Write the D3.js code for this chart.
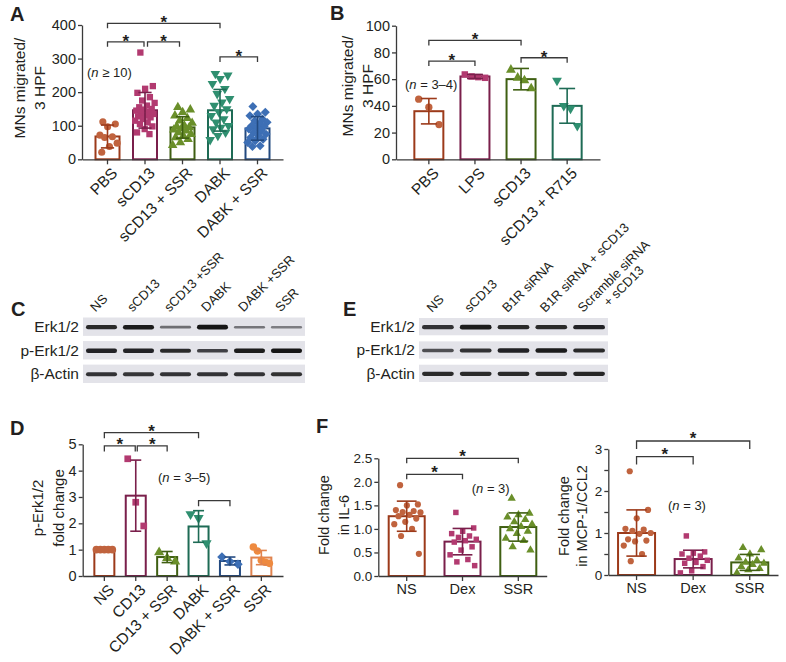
<!DOCTYPE html>
<html><head><meta charset="utf-8">
<script src="https://cdn.jsdelivr.net/npm/d3@7"></script>
<style>
body{margin:0;background:#fff;}
svg{display:block;font-family:"Liberation Sans",Arial,Helvetica,sans-serif;}
</style></head><body>
<svg id="fig" width="786" height="662"></svg>
<script>
// ---------------- Panel A ----------------
const aCategories = ["PBS","sCD13","sCD13 + SSR","DABK","DABK + SSR"];
const aMeans = [68,146,95,146,92];
const aSD = [34,53,32,62,35];
const aPoints = [
  [112,105,97,72,67,65,48,38,21],
  [318,218,210,198,185,175,168,160,155,150,148,145,140,138,135,130,128,125,120,115,110,105,98,90,80,75],
  [155,148,140,130,122,115,108,100,98,95,92,88,85,80,75,70,65,60,50,42],
  [255,250,240,225,210,195,180,170,160,150,140,130,120,110,100,95,90,80,70,58],
  [157,140,135,130,120,115,110,105,100,98,95,90,85,80,75,70,65,60,55,50,40,38]
];
const aTicks = [0,100,200,300,400];
const aBrackets = [[0,3,405,true],[0,1,350,true],[1,2,350,true],[3,4,305,true]];

// ---------------- Panel B ----------------
const bCategories = ["PBS","LPS","sCD13","sCD13 + R715"];
const bMeans = [36,62,60,40];
const bSD = [9.5,1.5,8,13];
const bPoints = [[45,39,26],[63.5,62,61.5,61],[67,61,59,53],[59,40,38,25]];
const bTicks = [0,20,40,60,80,100];
const bBrackets = [[0,2,89,true],[0,1,73.5,true],[2,3,76,true]];

// ---------------- Panel C (blot) ----------------
const cLanes = ["NS","sCD13","sCD13 +SSR","DABK","DABK +SSR","SSR"];
const cRows = ["Erk1/2","p-Erk1/2","β-Actin"];
const cErk = [0.85,0.95,0.4,1.0,0.35,0.3];
const cPErk = [0.9,0.9,0.85,0.7,0.95,1.0];
const cActin = [0.8,0.78,0.8,0.8,0.8,0.82];

// ---------------- Panel E (blot) ----------------
const eLanes = [["NS"],["sCD13"],["B1R siRNA"],["B1R siRNA + sCD13"],["Scramble siRNA","+ sCD13"]];
const eRows = ["Erk1/2","p-Erk1/2","β-Actin"];
const eErk = [0.8,0.95,0.85,0.85,0.9];
const ePErk = [0.6,0.8,0.9,0.95,0.85];
const eActin = [0.85,0.85,0.85,0.85,0.88];

// ---------------- Panel D ----------------
const dCategories = ["NS","CD13","CD13 + SSR","DABK","DABK + SSR","SSR"];
const dMeans = [1,3.05,0.72,1.88,0.57,0.7];
const dSD = [0,1.35,0.21,0.6,0.15,0.27];
const dPoints = [[1,1,1,1,1],[4.45,2.8,1.9],[0.9,0.68,0.55],[2.35,2.2,1.25],[0.72,0.55,0.45],[1.1,0.95,0.6,0.52,0.48]];
const dTicks = [0,1,2,3,4,5];
const dBrackets = [[0,3,5.44,true],[0,1,4.94,true],[1,2,4.94,true],[3,4,2.86,false]];

// ---------------- Panel F ----------------
const fCategories = ["NS","Dex","SSR"];
const fIL6Means = [1.27,0.73,1.04];
const fIL6SD = [0.32,0.28,0.3];
const fIL6Points = [
  [1.93,1.52,1.5,1.4,1.38,1.36,1.35,1.3,1.27,1.22,1.15,1.1,1.0,0.85,0.47],
  [1.35,1.02,0.95,0.9,0.85,0.82,0.78,0.75,0.72,0.62,0.55,0.45,0.35,0.3,0.22],
  [1.65,1.33,1.3,1.25,1.2,1.15,1.1,1.05,1.0,0.95,0.9,0.8,0.75,0.62,0.55]
];
const fIL6Ticks = [0,0.5,1,1.5,2,2.5];
const fIL6Brackets = [[0,2,2.5,true],[0,1,2.16,true]];
const fMCPMeans = [1.0,0.38,0.3];
const fMCPSD = [0.55,0.21,0.19];
const fMCPPoints = [
  [2.47,1.55,1.35,1.1,1.08,1.05,1.0,0.98,0.85,0.82,0.8,0.7,0.5,0.33],
  [0.93,0.55,0.52,0.5,0.45,0.4,0.35,0.3,0.28,0.2,0.1,0.05],
  [0.65,0.6,0.5,0.4,0.35,0.3,0.28,0.25,0.2,0.15,0.12,0.05]
];
const fMCPTicks = [0,1,2,3];
const fMCPBrackets = [[0,2,3.19,true],[0,1,2.82,true]];

// ---------------- styles ----------------
const INK = "#231f20", AX = "#3a3a3a";
const C = {
  brown:["#9c3a1a","#c0633e"], maroon:["#7a1f4b","#b23a70"], olive:["#3f5f12","#6a8f2a"],
  teal:["#1e6b55","#2f8f70"], blue:["#234a80","#3d6fb5"], orange:["#e0834f","#ee8a40"]
};
const svg = d3.select("#fig");
svg.append("rect").attr("width",786).attr("height",662).attr("fill","#fff");
const defs = svg.append("defs");
defs.append("filter").attr("id","blur").attr("x","-20%").attr("y","-100%").attr("width","140%").attr("height","300%")
  .append("feGaussianBlur").attr("stdDeviation",0.7);

const symTypes = {circle:d3.symbolCircle, square:d3.symbolSquare, tri:d3.symbolTriangle, triDown:d3.symbolTriangle, diamond:d3.symbolSquare};
const symRot = {circle:0, square:0, tri:0, triDown:180, diamond:45};

function panelLetter(t, x, y){
  svg.append("text").attr("x",x).attr("y",y).attr("font-size",20).attr("font-weight","bold")
    .attr("fill",INK).text(t);
}

function nText(x, y, parts, fs){
  const t = svg.append("text").attr("x",x).attr("y",y).attr("font-size",fs).attr("fill",INK);
  t.append("tspan").text("(");
  t.append("tspan").attr("font-style","italic").text("n");
  t.append("tspan").text(parts);
}

function barPanel(o){
  const g = svg.append("g");
  const n = o.categories.length;
  const pi = 1 - o.barW/o.step;
  const po = ((o.x1 - o.x0)/o.step - n + pi)/2;
  const x = d3.scaleBand().domain(o.categories).range([o.x0,o.x1]).paddingInner(pi).paddingOuter(po);
  const y = d3.scaleLinear().domain([0,o.yMax]).range([o.yBottom,o.yTop]);
  const cx = c => x(c) + x.bandwidth()/2;

  // bars
  g.selectAll("rect.bar").data(o.categories).join("rect").attr("class","bar")
    .attr("x", c=>x(c)).attr("width", x.bandwidth())
    .attr("y", (c,i)=>y(o.means[i])).attr("height",(c,i)=>y(0)-y(o.means[i]))
    .attr("fill","#fff").attr("stroke",(c,i)=>o.colors[i][0]).attr("stroke-width",2);

  // points
  o.categories.forEach((c,i)=>{
    const spread = o.barW*o.spread;
    const shape = o.shapes[i];
    const m = o.points[i].length;
    g.selectAll(null).data(o.points[i]).join("path")
      .attr("d", d3.symbol().type(symTypes[shape]).size(o.symSize)())
      .attr("transform",(v,k)=>{
        const off = m<=5 ? (m===1?0:(k/(m-1)-0.5)*2*spread) : (((k*0.618034+0.27)%1)-0.5)*2*spread;
        return `translate(${cx(c)+off},${y(v)}) rotate(${symRot[shape]})`;
      })
      .attr("fill", o.colors[i][1]);
  });

  // error bars
  o.categories.forEach((c,i)=>{
    if(!o.sd[i]) return;
    const col = o.colors[i][0], cap = o.barW*0.55;
    const lo = y(o.means[i]-o.sd[i]), hi = y(o.means[i]+o.sd[i]);
    g.append("line").attr("x1",cx(c)).attr("x2",cx(c)).attr("y1",lo).attr("y2",hi).attr("stroke",col).attr("stroke-width",1.6);
    [lo,hi].forEach(yy=> g.append("line").attr("x1",cx(c)-cap/2).attr("x2",cx(c)+cap/2).attr("y1",yy).attr("y2",yy).attr("stroke",col).attr("stroke-width",1.6));
  });

  // y axis
  const ya = g.append("g").attr("transform",`translate(${o.x0},0)`)
    .call(d3.axisLeft(y).tickValues(o.ticks).tickFormat(o.fmt).tickSize(4).tickSizeOuter(0).tickPadding(2));
  if(o.minor){
    g.append("g").attr("transform",`translate(${o.x0},0)`)
      .call(d3.axisLeft(y).tickValues(o.minor).tickFormat("").tickSize(4).tickSizeOuter(0))
      .select(".domain").remove();
  }
  // x axis
  const xa = g.append("g").attr("transform",`translate(0,${o.yBottom})`)
    .call(d3.axisBottom(x).tickSize(5).tickSizeOuter(0));
  g.selectAll(".domain, .tick line").attr("stroke",AX).attr("stroke-width",1.3);
  ya.selectAll("text").attr("font-size",o.tickFs).attr("fill",INK).attr("font-family","Liberation Sans, Arial, sans-serif");
  xa.selectAll("text").attr("font-size",o.xFs).attr("fill",INK).attr("font-family","Liberation Sans, Arial, sans-serif");
  if(o.rotate){
    xa.selectAll(".tick text").attr("y",0).attr("x",0).attr("dy","0.35em").attr("text-anchor","end")
      .attr("transform",`translate(${o.lblDx},${o.lblDy}) rotate(-45)`);
  } else {
    xa.selectAll(".tick text").attr("y",o.lblDy).attr("dy","0.71em");
  }

  // brackets
  o.brackets.forEach(([a,b,lvl,star],k)=>{
    const xa1 = cx(o.categories[a]) + (o.insets ? o.insets[k][0] : 0);
    const xb1 = cx(o.categories[b]) + (o.insets ? o.insets[k][1] : 0);
    const yl = y(lvl);
    g.append("path").attr("d",`M${xa1},${yl+o.leg}V${yl}H${xb1}V${yl+o.leg}`)
      .attr("fill","none").attr("stroke",AX).attr("stroke-width",1.3);
    if(star){
      g.append("text").attr("x",(xa1+xb1)/2).attr("y",yl - o.starGap + 0.58*17)
        .attr("text-anchor","middle").attr("font-size",17).attr("font-weight","bold").attr("fill",INK).text("*");
    }
  });

  // y title
  o.title.forEach((t,k)=>{
    svg.append("text").attr("transform",`translate(${o.titleX[k]},${o.titleY}) rotate(-90)`)
      .attr("text-anchor","middle").attr("font-size",o.titleFs).attr("fill",INK).text(t);
  });
  return {x,y};
}

function blot(o){
  const g = svg.append("g");
  const x = d3.scaleBand().domain(d3.range(o.lanes.length)).range([o.x0,o.x1]);
  const r = d3.scaleBand().domain(o.rows).range([o.y0,o.y1]).paddingInner(o.rowPad);
  o.rows.forEach((row,ri)=>{
    g.append("rect").attr("x",o.x0).attr("width",o.x1-o.x0).attr("y",r(row)).attr("height",r.bandwidth()).attr("fill","#e3e3e9");
    svg.append("text").attr("x",o.labelX).attr("y",r(row)+r.bandwidth()/2).attr("dy","0.35em")
      .attr("text-anchor","end").attr("font-size",15.5).attr("fill",INK).text(row);
    const vals = o.data[ri];
    g.selectAll(null).data(vals).join("rect")
      .attr("x",(v,i)=>x(i)+x.bandwidth()*0.08).attr("width",x.bandwidth()*0.84)
      .attr("y",v=>r(row)+r.bandwidth()/2 - (1.5+3.2*v)/2 + 0.5).attr("height",v=>1.5+3.2*v)
      .attr("rx",v=>(1.5+3.2*v)/2)
      .attr("fill",v=>d3.interpolateRgb("#a9a9b0","#151515")(v)).attr("filter","url(#blur)");
  });
  // lane labels
  o.lanes.forEach((lab,i)=>{
    const lines = Array.isArray(lab)?lab:[lab];
    const t = svg.append("text").attr("transform",`translate(${x(i)+x.bandwidth()/2-6},${o.y0-5}) rotate(-45)`)
      .attr("font-size",13).attr("fill",INK);
    const t1 = t.append("tspan").attr("x",0).attr("y",0).text(lines[0]);
    if(lines.length>1){
      const l1 = t1.node().getComputedTextLength();
      const t2 = t.append("tspan").attr("y",14).text(lines[1]);
      const l2 = t2.node().getComputedTextLength();
      t2.attr("x",(l1-l2)/2);
    }
  });
}

// ---- draw A ----
panelLetter("A",10,21);
barPanel({categories:aCategories, means:aMeans, sd:aSD, points:aPoints, ticks:aTicks, fmt:d3.format("d"),
  x0:82, x1:283, step:37.5, barW:24, yMax:400, yBottom:159.3, yTop:25,
  colors:[C.brown,C.maroon,C.olive,C.teal,C.blue], shapes:["circle","square","tri","triDown","diamond"],
  symSize:40, spread:0.42, tickFs:14.5, xFs:15.5, rotate:true, lblDx:7, lblDy:11,
  brackets:aBrackets, insets:[[0,0],[0,-1],[2.5,-3],[0,0]], leg:5, starGap:5,
  title:["MNs migrated/","3 HPF"], titleX:[24.5,44.5], titleY:88, titleFs:15.5});
nText(87,77," ≥ 10)",13);

// ---- draw B ----
panelLetter("B",330,20);
barPanel({categories:bCategories, means:bMeans, sd:bSD, points:bPoints, ticks:bTicks, fmt:d3.format("d"),
  x0:396, x1:600, step:46.1, barW:29, yMax:100, yBottom:159.3, yTop:25.7,
  colors:[C.brown,C.maroon,C.olive,C.teal], shapes:["circle","square","tri","triDown"],
  symSize:42, spread:0.35, tickFs:14.5, xFs:15.5, rotate:true, lblDx:7, lblDy:11,
  brackets:bBrackets, insets:[[0,0],[0,0],[0,0]], leg:5, starGap:5,
  title:["MNs migrated/","3 HPF"], titleX:[352.7,372.5], titleY:86, titleFs:15.5});
nText(405,89," = 3–4)",13);

// ---- draw C ----
panelLetter("C",11,316);
blot({lanes:cLanes, rows:cRows, data:[cErk,cPErk,cActin], x0:83, x1:305, y0:317.5, y1:383, rowPad:0.22, labelX:79});

// ---- draw E ----
panelLetter("E",343,316);
blot({lanes:eLanes, rows:eRows, data:[eErk,ePErk,eActin], x0:419, x1:608, y0:318, y1:382, rowPad:0.26, labelX:415});

// ---- draw D ----
panelLetter("D",10,435);
barPanel({categories:dCategories, means:dMeans, sd:dSD, points:dPoints, ticks:dTicks, fmt:d3.format("d"),
  x0:82.7, x1:283, step:31.4, barW:20, yMax:5, yBottom:576, yTop:444.3,
  colors:[C.brown,C.maroon,C.olive,C.teal,C.blue,C.orange], shapes:["circle","square","tri","triDown","diamond","circle"],
  symSize:45, spread:0.4, tickFs:14.5, xFs:15.5, rotate:true, lblDx:7, lblDy:11,
  brackets:dBrackets, insets:[[0,0],[0,-0.5],[1.5,0],[0,0]], leg:5.5, starGap:6,
  title:["p-Erk1/2","fold change"], titleX:[42.5,64], titleY:508, titleFs:15});
nText(158,482," = 3–5)",13);

// ---- draw F ----
panelLetter("F",316,433);
barPanel({categories:fCategories, means:fIL6Means, sd:fIL6SD, points:fIL6Points, ticks:fIL6Ticks, fmt:d3.format(".1f"),
  x0:378.3, x1:546.7, step:55.8, barW:36, yMax:2.5, yBottom:576, yTop:458.3,
  colors:[C.brown,C.maroon,C.olive], shapes:["circle","square","tri"],
  symSize:30, spread:0.4, tickFs:13.5, xFs:14.5, rotate:false, lblDy:8,
  brackets:fIL6Brackets, leg:5, starGap:6,
  title:["Fold change","in IL-6"], titleX:[328.5,348.5], titleY:515, titleFs:14.5});
nText(471.7,492.5," = 3)",13);

barPanel({categories:fCategories, means:fMCPMeans, sd:fMCPSD, points:fMCPPoints, ticks:fMCPTicks, fmt:d3.format("d"), minor:[0.5,1.5,2.5],
  x0:608.3, x1:778, step:56.6, barW:37, yMax:3, yBottom:575, yTop:449,
  colors:[C.brown,C.maroon,C.olive], shapes:["circle","square","tri"],
  symSize:30, spread:0.4, tickFs:13.5, xFs:14.5, rotate:false, lblDy:8,
  brackets:fMCPBrackets, leg:8, starGap:6.5,
  title:["Fold change","in MCP-1/CCL2"], titleX:[568.5,586.5], titleY:516, titleFs:14.5});
nText(668,509.5," = 3)",13);
</script>
</body></html>
